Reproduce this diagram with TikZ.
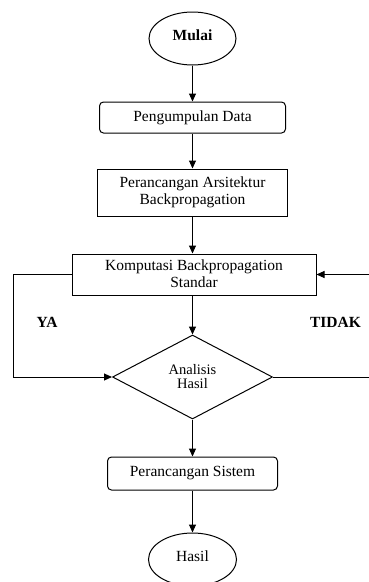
\documentclass[tikz,border=0pt]{standalone}
\usepackage{fontspec}
\setmainfont{Liberation Serif}
\usetikzlibrary{shapes.geometric,arrows.meta}
\begin{document}
\begin{tikzpicture}[x=1pt,y=-1pt,
  every node/.style={font=\fontsize{15.5}{17}\selectfont, text=black, align=center, inner sep=0pt},
  terminal/.style={draw, ellipse, line width=1pt, minimum width=87pt, minimum height=53pt},
  roundbox/.style={draw, rounded corners=4pt, line width=1pt},
  plainbox/.style={draw, line width=1pt},
  decision/.style={draw, diamond, aspect=1.9, line width=1pt, minimum width=160pt, minimum height=84pt},
  flow/.style={draw, line width=1pt, -{Triangle[length=8pt,width=7pt]}},
  tag/.style={font=\fontsize{15.5}{17}\selectfont\bfseries}
]
\useasboundingbox[fill=white] (0,0) rectangle (368,582);

\node[terminal] (mulai) at (192.5,38.5) {\raisebox{6pt}{\textbf{Mulai}}};
\node[roundbox, minimum width=186pt, minimum height=31pt] (data) at (192.5,117.5) {Pengumpulan Data};
\node[plainbox, minimum width=190pt, minimum height=47pt] (arsi) at (192.5,192.5) {Perancangan Arsitektur\\Backpropagation};
\node[plainbox, minimum width=244pt, minimum height=41pt] (komp) at (194,274.5) {\raisebox{2pt}{\shortstack{Komputasi Backpropagation\\Standar}}};
\node[decision, font=\fontsize{14.5}{15}\selectfont] (anal) at (192.5,377) {\raisebox{1pt}{\shortstack{Analisis\\Hasil}}};
\node[roundbox, minimum width=170pt, minimum height=33pt] (sist) at (192.5,473.5) {Perancangan Sistem};
\node[terminal, minimum width=88pt] (hasil) at (192.5,559.5) {\raisebox{6pt}{Hasil}};

\node[tag] (ya) at (47,322) {YA};
\node[tag] (tidak) at (335.5,322) {TIDAK};

\draw[flow] (mulai) -- (data);
\draw[flow] (data) -- (arsi);
\draw[flow] (arsi.south) -- (arsi.south |- komp.north);
\draw[flow] (arsi.south |- komp.south) -- (anal.north);
\draw[flow] (anal) -- (sist);
\draw[flow] (sist) -- (hasil);

% YA loop on the left
\draw[flow] (komp.west) -- (13,274.5) -- (13,377) -- (anal.west);
% TIDAK loop on the right, running past the page edge
\draw[flow] (anal.east) -- (371,377) -- (371,274.5) -- (komp.east);
\end{tikzpicture}
\end{document}
